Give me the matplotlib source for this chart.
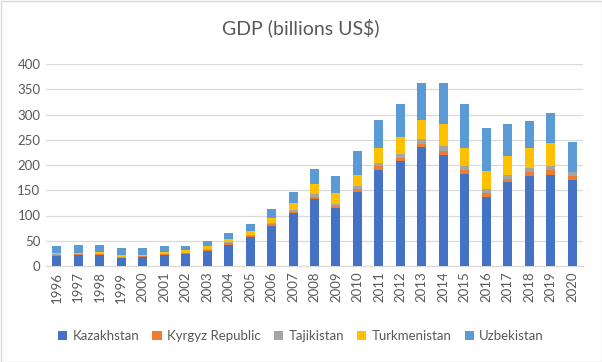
import numpy as np
import matplotlib.pyplot as plt
from matplotlib.patches import Rectangle

plt.rcParams["font.family"] = ["Lato", "DejaVu Sans"]

years = [str(y) for y in range(1996, 2021)]

# GDP, billions US$
kazakhstan = [20.0, 21.5, 21.5, 15.5, 17.5, 21.5, 23.5, 29.5, 42.5, 56.5, 80.0, 104.0,
              132.0, 114.0, 147.5, 191.0, 207.0, 235.0, 220.5, 183.0, 137.0, 165.5,
              177.5, 181.0, 170.0]
kyrgyz = [1.8, 1.8, 1.7, 1.3, 1.4, 1.5, 1.6, 1.9, 2.2, 2.5, 2.8, 3.8, 5.1, 4.7, 4.8,
          6.2, 6.6, 7.3, 7.5, 6.7, 7.5, 7.7, 8.5, 8.9, 7.7]
tajikistan = [1.0, 0.9, 1.3, 1.1, 0.9, 1.1, 1.2, 1.6, 2.1, 2.3, 2.8, 3.7, 5.2, 5.0,
              5.6, 6.5, 7.6, 8.5, 9.1, 8.3, 7.0, 7.5, 7.8, 8.3, 8.1]
turkmenistan = [2.4, 2.5, 2.6, 2.9, 2.9, 3.5, 4.5, 6.0, 6.8, 8.1, 10.3, 12.7, 19.3,
                20.2, 22.6, 29.2, 35.2, 39.2, 43.5, 35.8, 36.2, 37.9, 40.8, 45.2, 0.0]
uzbekistan = [13.5, 14.5, 14.5, 14.5, 13.5, 11.4, 9.7, 10.1, 12.0, 14.3, 17.0, 22.3,
              29.5, 33.7, 46.7, 56.3, 63.6, 73.2, 81.8, 86.2, 86.1, 62.1, 52.9, 60.3,
              59.9]

series = [
    ("Kazakhstan", kazakhstan, "#4472C4"),
    ("Kyrgyz Republic", kyrgyz, "#ED7D31"),
    ("Tajikistan", tajikistan, "#A5A5A5"),
    ("Turkmenistan", turkmenistan, "#FFC000"),
    ("Uzbekistan", uzbekistan, "#5B9BD5"),
]

fig = plt.figure(figsize=(6.02, 3.62), dpi=100)
ax = fig.add_axes([46 / 602, 96 / 362, 537 / 602, 202 / 362])

x = np.arange(len(years))
bottom = np.zeros(len(years))
for name, vals, color in series:
    vals = np.array(vals)
    ax.bar(x, vals, width=0.42, bottom=bottom, color=color, label=name, zorder=3)
    bottom += vals

ax.set_xlim(-0.5, len(years) - 0.5)
ax.set_ylim(0, 400)
ax.set_yticks(range(0, 401, 50))
ax.set_xticks(x)
ax.set_xticklabels(years, rotation=90)
ax.tick_params(axis="both", length=0, labelsize=9.5, colors="#595959", pad=4)
ax.grid(axis="y", color="#D9D9D9", linewidth=0.9, zorder=0)
for side in ["top", "right", "left"]:
    ax.spines[side].set_visible(False)
ax.spines["bottom"].set_color("#D9D9D9")

fig.text(0.5, 1 - 28 / 362, "GDP (billions US$)", ha="center", va="center",
         fontsize=14, color="#595959")

fig.legend(loc="center", bbox_to_anchor=(0.5, 1 - 336 / 362), ncol=5, frameon=False,
           fontsize=9.5, handlelength=0.7, handleheight=0.7, columnspacing=1.0,
           handletextpad=0.4, labelcolor="#595959")

fig.patches.append(Rectangle((0.5 / 602, 0.5 / 362), 1 - 1 / 602, 1 - 1 / 362,
                             transform=fig.transFigure, fill=False,
                             edgecolor="#D9D9D9", linewidth=1))

fig.savefig("out.png", dpi=100)
